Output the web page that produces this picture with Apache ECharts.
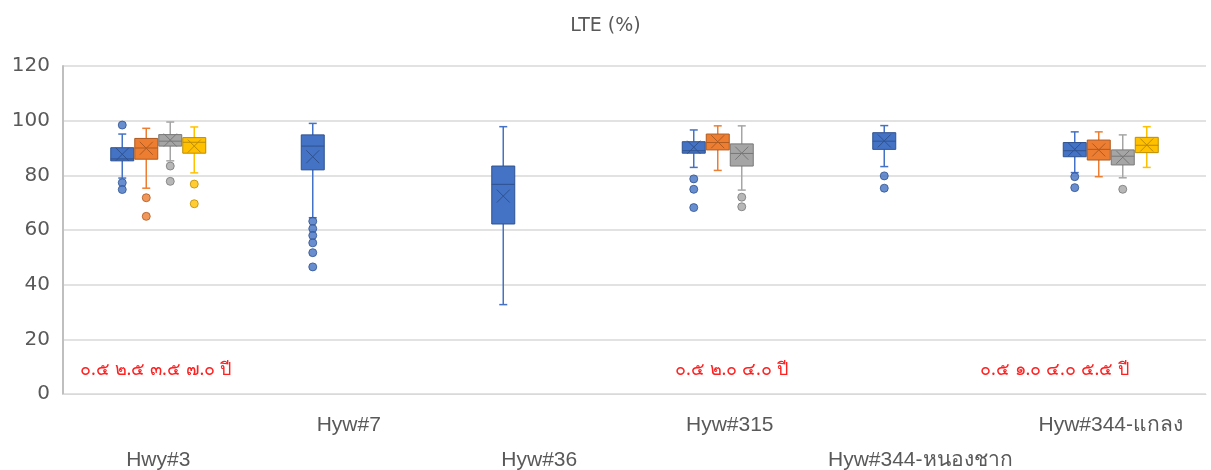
<!DOCTYPE html>
<html>
<head>
    <meta charset="utf-8">
    <script src="https://cdn.jsdelivr.net/npm/echarts@6/dist/echarts.min.js"></script>
    <style>
        html, body { margin: 0; padding: 0; background: #fff; }
        #main { width: 1211px; height: 470px; }
    </style>
</head>
<body>
<div id="main"></div>
<script>
    // categories (x axis)
    var categories = ['Hwy#3', 'Hyw#7', 'Hyw#36', 'Hyw#315', 'Hyw#344-หนองชาก', 'Hyw#344-แกลง'];
    var yTicks = [0, 20, 40, 60, 80, 100, 120];

    // box stats per category: [min, q1, median, q3, max, mean], null = no data
    var blueBox = [
        [79, 85.3, 86, 90.1, 95.1, 87.7],
        [64.5, 82, 90.7, 94.8, 99, 86.8],
        [32.7, 62.2, 76.7, 83.4, 97.8, 72.4],
        [82.9, 88.1, 89, 92.3, 96.6, 90.3],
        [83.2, 89.5, 92.5, 95.6, 98.2, 92.6],
        [81, 86.8, 89, 92, 95.9, 89.5]
    ];
    var orangeBox = [
        [75.3, 85.9, 90, 93.5, 97.2, 89.9], null, null,
        [81.8, 89.3, 92, 95.1, 98.1, 92.3], null,
        [79.5, 85.6, 89.5, 92.9, 95.9, 89.3]
    ];
    var grayBox = [
        [85.3, 90.7, 92.5, 94.9, 99.5, 92.9], null, null,
        [74.6, 83.4, 88, 91.5, 98.1, 88.1], null,
        [79.1, 83.8, 87, 89.3, 94.8, 86.6]
    ];
    var yellowBox = [
        [80.9, 88.1, 92.1, 93.8, 97.7, 90.7], null, null, null, null,
        [82.9, 88.3, 91, 93.9, 97.8, 91.1]
    ];

    // outliers: [category index, value]
    var blueOut = [[0, 98.4], [0, 77.3], [0, 74.8], [1, 63.2], [1, 60.5], [1, 58.0], [1, 55.3], [1, 51.7], [1, 46.5],
        [3, 78.7], [3, 74.9], [3, 68.2], [4, 79.8], [4, 75.3], [5, 79.5], [5, 75.5]];
    var orangeOut = [[0, 71.8], [0, 65.0]];
    var grayOut = [[0, 83.4], [0, 77.8], [3, 72.0], [3, 68.5], [5, 74.9]];
    var yellowOut = [[0, 76.8], [0, 69.6]];

    // red notes under each group
    var notes = ['๐.๕ ๒.๕ ๓.๕ ๗.๐ ปี', '๐.๕ ๒.๐ ๔.๐ ปี', '๐.๕ ๑.๐ ๔.๐ ๕.๕ ปี'];

    var groups = [
        {box: blueBox, out: blueOut, fill: '#4472C4', line: '#2F528F', offset: -36},
        {box: orangeBox, out: orangeOut, fill: '#ED7D31', line: '#AE5A21', offset: -12},
        {box: grayBox, out: grayOut, fill: '#A5A5A5', line: '#787878', offset: 12},
        {box: yellowBox, out: yellowOut, fill: '#FFC000', line: '#BC8C00', offset: 36}
    ];

    var BOX_W = 23, CAP_W = 8, X_HALF = 6.5;

    function makeRender(g) {
        return function (params, api) {
            var cat = api.value(0);
            var p = function (v) { return api.coord([cat, v]); };
            var x = p(0)[0] + g.offset;
            var yMin = p(api.value(1))[1], yQ1 = p(api.value(2))[1], yMed = p(api.value(3))[1];
            var yQ3 = p(api.value(4))[1], yMax = p(api.value(5))[1], yMean = p(api.value(6))[1];
            var whisk = {stroke: g.fill, lineWidth: 1.5};
            var dark = {stroke: g.line, lineWidth: 1};
            return {
                type: 'group',
                children: [
                    {type: 'line', shape: {x1: x, y1: yMax, x2: x, y2: yQ3}, style: whisk},
                    {type: 'line', shape: {x1: x, y1: yQ1, x2: x, y2: yMin}, style: whisk},
                    {type: 'line', shape: {x1: x - CAP_W / 2, y1: yMax, x2: x + CAP_W / 2, y2: yMax}, style: whisk},
                    {type: 'line', shape: {x1: x - CAP_W / 2, y1: yMin, x2: x + CAP_W / 2, y2: yMin}, style: whisk},
                    {type: 'rect', shape: {x: x - BOX_W / 2, y: yQ3, width: BOX_W, height: yQ1 - yQ3},
                        style: {fill: g.fill, stroke: g.line, lineWidth: 1}},
                    {type: 'line', shape: {x1: x - BOX_W / 2, y1: yMed, x2: x + BOX_W / 2, y2: yMed}, style: dark},
                    {type: 'line', shape: {x1: x - X_HALF, y1: yMean - X_HALF, x2: x + X_HALF, y2: yMean + X_HALF}, style: dark},
                    {type: 'line', shape: {x1: x - X_HALF, y1: yMean + X_HALF, x2: x + X_HALF, y2: yMean - X_HALF}, style: dark}
                ]
            };
        };
    }

    var series = [];
    groups.forEach(function (g, i) {
        var data = [];
        g.box.forEach(function (s, c) {
            if (s) data.push([c].concat(s));
        });
        series.push({
            type: 'custom',
            name: 'S' + (i + 1),
            renderItem: makeRender(g),
            encode: {x: 0, y: [1, 2, 3, 4, 5, 6]},
            data: data,
            z: 2
        });
        series.push({
            type: 'scatter',
            data: g.out,
            symbol: 'circle',
            symbolSize: 8,
            symbolOffset: [g.offset, 0],
            itemStyle: {color: g.fill, borderColor: g.line, borderWidth: 1},
            z: 3
        });
    });

    var myChart = echarts.init(document.getElementById('main'));
    var option = {
        animation: false,
        title: {
            text: 'LTE (%)',
            left: 'center',
            top: 12,
            textStyle: {fontFamily: 'DejaVu Sans', fontSize: 19, fontWeight: 'normal', color: '#595959'}
        },
        grid: {left: 63, right: 5, top: 66, bottom: 76, outerBoundsMode: 'none', containLabel: false},
        xAxis: {
            type: 'category',
            data: categories,
            axisLine: {show: true, lineStyle: {color: '#d9d9d9', width: 1}},
            axisTick: {show: false},
            axisLabel: {
                interval: 0,
                margin: 14,
                fontFamily: 'Liberation Sans',
                fontSize: 21,
                lineHeight: 35,
                color: '#595959',
                formatter: function (v, i) { return i % 2 === 0 ? '\n' + v : v; }
            }
        },
        yAxis: {
            type: 'value',
            min: yTicks[0],
            max: yTicks[yTicks.length - 1],
            interval: 20,
            axisLine: {show: true, lineStyle: {color: '#bfbfbf', width: 2}},
            axisTick: {show: false},
            splitLine: {lineStyle: {color: '#d9d9d9', width: 1.5}},
            axisLabel: {margin: 13, fontFamily: 'DejaVu Sans', fontSize: 20, color: '#595959'}
        },
        graphic: [
            {type: 'text', left: 80, top: 361, style: {text: notes[0], fill: '#FF2020', fontSize: 18, fontFamily: 'Noto Sans'}},
            {type: 'text', left: 675, top: 361, style: {text: notes[1], fill: '#FF2020', fontSize: 18, fontFamily: 'Noto Sans'}},
            {type: 'text', left: 980, top: 361, style: {text: notes[2], fill: '#FF2020', fontSize: 18, fontFamily: 'Noto Sans'}}
        ],
        series: series
    };
    myChart.setOption(option);
</script>
</body>
</html>
